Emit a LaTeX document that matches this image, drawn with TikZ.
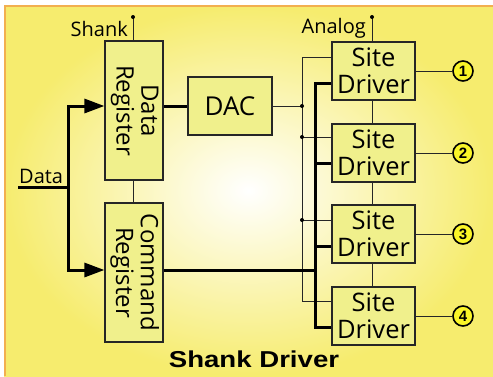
\documentclass[tikz,border=0pt]{standalone}
\usepackage{fontspec}
\setmainfont{Open Sans}
\newfontfamily\titlefont{Liberation Sans}
\usetikzlibrary{arrows.meta,calc}
\definecolor{boxfill}{RGB}{240,240,140}
\definecolor{circfill}{RGB}{250,245,40}
\definecolor{bgyellow}{RGB}{246,236,110}
\definecolor{frameorange}{RGB}{242,175,80}
\tikzset{
  blk/.style={draw=black!85, line width=1.2pt, fill=boxfill, inner sep=0pt, align=center},
  regbox/.style={blk, minimum width=58pt, minimum height=139pt},
  sitebox/.style={blk, minimum width=83pt, minimum height=58pt, font=\fontsize{25.5}{26.5}\selectfont},
  outcirc/.style={circle, draw=black, line width=1.6pt, fill=circfill, minimum size=20pt, inner sep=0pt, font=\titlefont\bfseries\fontsize{15}{15}\selectfont},
  thin/.style={line width=1pt, draw=black!85},
  fat/.style={line width=3pt, draw=black},
  dot/.style={circle, fill=black, inner sep=0pt, minimum size=4pt},
  bigarrow/.style={-{Triangle[length=20pt,width=14pt]}},
  lbl/.style={font=\fontsize{20}{20}\selectfont, inner sep=0pt}
}
\begin{document}
\begin{tikzpicture}[x=1pt,y=-1pt]
\useasboundingbox (0,0) rectangle (493,376);
\fill[white] (0,0) rectangle (493,376);
\shade[inner color=white, outer color=bgyellow] (4,5) rectangle (493,376);
\draw[frameorange, line width=2pt] (5,376) -- (5,6) -- (493,6);

% registers
\node[regbox] (dr) at (134,110.5) {\rotatebox{-90}{\fontsize{24}{24}\selectfont\begin{tabular}{@{}c@{}}Data\\Register\end{tabular}}};
\node[regbox] (cr) at (134,272.5) {\rotatebox{-90}{\fontsize{24}{24}\selectfont\begin{tabular}{@{}c@{}}Command\\Register\end{tabular}}};
\node[blk, minimum width=84pt, minimum height=58pt, font=\fontsize{26}{26}\selectfont] (dac) at (230,106) {DAC};

% site drivers
\node[sitebox] (sd1) at (373.5,71) {Site\\Driver};
\node[sitebox] (sd2) at (373.5,153) {Site\\Driver};
\node[sitebox] (sd3) at (373.5,234) {Site\\Driver};
\node[sitebox] (sd4) at (373.5,316) {Site\\Driver};

% outputs
\node[outcirc] (c1) at (463,71) {1};
\node[outcirc] (c2) at (463,153) {2};
\node[outcirc] (c3) at (463,234) {3};
\node[outcirc] (c4) at (463,316) {4};
\foreach \i in {1,2,3,4} \draw[thin] (sd\i) -- (c\i);

% shank / analog
\coordinate (shtop) at (133,17);
\coordinate (antop) at (372,17);
\draw[thin] (dr.north -| shtop) -- (shtop);
\node[dot, minimum size=4pt] at (shtop) {};
\draw[thin] (sd1.north -| antop) -- (antop);
\node[dot, minimum size=4pt] at (antop) {};
\node[lbl, anchor=east] (shl) at (128,29) {Shank};
\node[lbl, anchor=east] (anl) at (366,28) {Analog};

% register link
\draw[thin] (dr.south -| shtop) -- (cr.north -| shtop);
% site driver chain
\draw[thin] (sd1.south -| antop) -- (sd2.north -| antop);
\draw[thin] (sd2.south -| antop) -- (sd3.north -| antop);
\draw[thin] (sd3.south -| antop) -- (sd4.north -| antop);

% data input
\node[lbl, anchor=base west] (dl) at (19,183) {Data};
\coordinate (din) at (18,187);
\coordinate (dj) at (68,187);
\draw[fat] (din) -- (dj);
\draw[fat, bigarrow] (dj) |- (dr.west |- 0,106);
\draw[fat, bigarrow] (dj) |- (cr.west |- 0,270);

% DAC link
\draw[fat] (dr.east |- dac) -- (dac.west);

% thin analog bus
\coordinate (ta) at (302,57);
\coordinate (tb) at (302,301);
\draw[thin] (sd1.west |- ta) -- (ta) -- (tb) -- (sd4.west |- tb);
\draw[thin] (dac.east) -- (302,106);
\draw[thin] (302,137) -- (sd2.west |- 0,137);
\draw[thin] (302,220) -- (sd3.west |- 0,220);
\node[dot] at (302,106) {};
\node[dot] at (302,137) {};
\node[dot] at (302,220) {};

% thick command bus
\coordinate (fa) at (315,83);
\coordinate (fb) at (315,327);
\draw[fat, line join=miter] (sd1.west |- fa) -- (fa) -- (fb) -- (sd4.west |- fb);
\draw[fat] (315,163) -- (sd2.west |- 0,163);
\draw[fat] (315,246) -- (sd3.west |- 0,246);
\draw[fat] (cr.east |- 0,270) -- (315,270);

% title
\node[font=\titlefont\bfseries\fontsize{23}{23}\selectfont, inner sep=0pt, anchor=base] (title) at (254,367) {\scalebox{1.2}[1]{Shank Driver}};
\end{tikzpicture}
\end{document}
